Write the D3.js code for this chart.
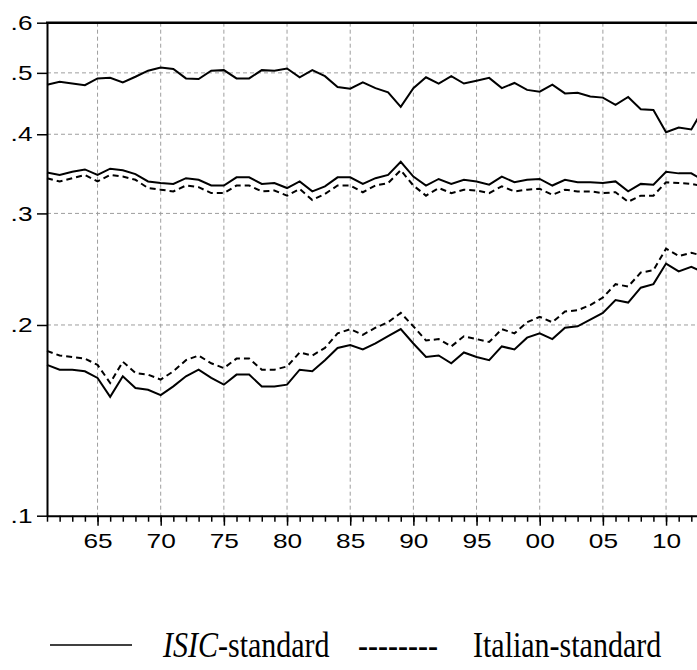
<!DOCTYPE html>
<html>
<head>
<meta charset="utf-8">
<script src="https://cdn.jsdelivr.net/npm/d3@7"></script>
<style>
  html, body { margin: 0; padding: 0; background: #fff; }
  svg { display: block; }
  .tick text { font-family: "Liberation Sans", Arial, sans-serif; font-size: 21px; fill: #000; }
</style>
</head>
<body>
<div id="chart"></div>
<script>
// Annual series, 1961-2013 (log scale)
const years = d3.range(1961, 2014);

const topShare = [
  .479, .484, .481, .478, .490, .491, .483, .493, .504, .510,
  .507, .490, .489, .504, .505, .490, .490, .505, .504, .508,
  .492, .505, .494, .475, .472, .483, .473, .466, .442, .473,
  .492, .481, .494, .481, .486, .491, .473, .482, .470, .467,
  .479, .464, .465, .459, .457, .445, .458, .438, .437, .403,
  .410, .407, .440
];

const midISIC = [
  .348, .345, .349, .352, .345, .353, .351, .346, .337, .335,
  .334, .341, .339, .332, .332, .342, .342, .334, .335, .329,
  .337, .325, .331, .342, .342, .334, .341, .345, .362, .343,
  .332, .340, .334, .339, .337, .333, .343, .336, .339, .340,
  .332, .339, .336, .336, .335, .337, .325, .334, .333, .349,
  .347, .347, .338
];

const midItalian = [
  .341, .337, .341, .345, .337, .345, .343, .339, .329, .327,
  .325, .332, .330, .323, .323, .332, .332, .325, .326, .320,
  .328, .315, .322, .332, .332, .324, .332, .335, .351, .332,
  .320, .329, .323, .327, .326, .323, .331, .325, .327, .328,
  .321, .327, .325, .325, .323, .324, .313, .320, .320, .336,
  .335, .334, .331
];

const lowISIC = [
  .173, .170, .170, .169, .165, .154, .166, .159, .158, .155,
  .160, .166, .170, .165, .161, .167, .167, .160, .160, .161,
  .170, .169, .176, .184, .186, .183, .187, .192, .197, .187,
  .178, .179, .174, .181, .178, .176, .185, .183, .191, .194,
  .190, .198, .199, .204, .209, .219, .217, .229, .232, .250,
  .243, .247, .242
];

const lowItalian = [
  .182, .179, .178, .177, .173, .162, .175, .168, .167, .164,
  .169, .176, .179, .174, .171, .177, .177, .170, .170, .172,
  .181, .179, .184, .194, .197, .193, .198, .202, .209, .199,
  .189, .190, .185, .192, .190, .188, .197, .194, .202, .206,
  .202, .210, .211, .215, .221, .232, .230, .242, .244, .264,
  .257, .260, .257
];

const yTicks = [0.1, 0.2, 0.3, 0.4, 0.5, 0.6];
const yTickLabels = [".1", ".2", ".3", ".4", ".5", ".6"];
const xMajor = [1965, 1970, 1975, 1980, 1985, 1990, 1995, 2000, 2005, 2010];
const xTickLabels = ["65", "70", "75", "80", "85", "90", "95", "00", "05", "10"];
const legendLabels = ["ISIC", "-standard", "Italian-standard"];

const W = 697, H = 670;
const plotLeft = 47, plotTop = 22.7, plotBottom = 515.7, plotRight = 697;
const labelStretch = 1.25;   // wide tick-label glyphs

const svg = d3.select("#chart").append("svg")
  .attr("width", W).attr("height", H)
  .style("background", "#fff");

const x = d3.scaleLinear().domain([1961, 2012.45]).range([plotLeft, plotRight]);
const y = d3.scaleLog().domain([0.1, 0.6]).range([plotBottom, plotTop]);

// dashed grid
const grid = svg.append("g").attr("stroke", "#9e9e9e").attr("stroke-width", 1)
  .attr("stroke-dasharray", "4,3").attr("fill", "none");
grid.selectAll("line.v").data(xMajor).join("line").attr("class", "v")
  .attr("x1", d => x(d)).attr("x2", d => x(d))
  .attr("y1", plotTop).attr("y2", plotBottom);
grid.selectAll("line.h").data(yTicks.slice(1, -1)).join("line").attr("class", "h")
  .attr("x1", plotLeft).attr("x2", plotRight)
  .attr("y1", d => y(d)).attr("y2", d => y(d));

// series
const line = d3.line().x((d, i) => x(years[i])).y(d => y(d));
const plot = svg.append("g").attr("fill", "none").attr("stroke", "#000")
  .attr("stroke-width", 2).attr("stroke-linejoin", "miter");
[topShare, midISIC, lowISIC].forEach(s => plot.append("path").attr("d", line(s)));
[midItalian, lowItalian].forEach(s => plot.append("path").attr("d", line(s))
  .attr("stroke-dasharray", "6,4"));

// y axis
const yAxis = svg.append("g").attr("transform", `translate(${plotLeft},0)`)
  .call(d3.axisLeft(y).tickValues(yTicks)
    .tickFormat((d, i) => yTickLabels[i]).tickSize(10).tickSizeOuter(0).tickPadding(4.5));
yAxis.selectAll(".tick line").attr("stroke", "#000").attr("stroke-width", 1.5);
yAxis.select(".domain").attr("stroke", "#000").attr("stroke-width", 2);
yAxis.selectAll(".tick text")
  .attr("x", -14.5 / labelStretch)
  .attr("transform", `scale(${labelStretch},1)`);

// x axis: minor ticks every year, labelled major ticks every five years
const minorYears = years.filter(v => x(v) <= plotRight);
const xMinor = svg.append("g").attr("transform", `translate(0,${plotBottom})`)
  .call(d3.axisBottom(x).tickValues(minorYears).tickFormat("").tickSize(6).tickSizeOuter(0));
xMinor.selectAll(".tick line").attr("stroke", "#000").attr("stroke-width", 1.5);
xMinor.select(".domain").remove();

const xAxis = svg.append("g").attr("transform", `translate(0,${plotBottom})`)
  .call(d3.axisBottom(x).tickValues(xMajor)
    .tickFormat((d, i) => xTickLabels[i]).tickSize(10).tickSizeOuter(0).tickPadding(7.5));
xAxis.selectAll(".tick line").attr("stroke", "#000").attr("stroke-width", 1.5);
xAxis.select(".domain").attr("stroke", "#000").attr("stroke-width", 2);
xAxis.selectAll(".tick text").attr("transform", `scale(${labelStretch},1)`);

// top frame line
svg.append("line").attr("x1", plotLeft - 1).attr("x2", plotRight)
  .attr("y1", plotTop).attr("y2", plotTop).attr("stroke", "#000").attr("stroke-width", 2.5);

// legend (serif, slightly tall glyphs)
const lg = svg.append("g").style("font-family", "'Liberation Serif', 'Times New Roman', serif")
  .style("font-size", "30px").attr("fill", "#000");
lg.append("line").attr("x1", 50).attr("x2", 132).attr("y1", 645).attr("y2", 645)
  .attr("stroke", "#000").attr("stroke-width", 1.5);
const t1 = lg.append("text").attr("transform", "translate(163,657) scale(1,1.2)");
t1.append("tspan").style("font-style", "italic").text(legendLabels[0]);
t1.append("tspan").text(legendLabels[1]);
lg.append("text").attr("transform", "translate(358,657) scale(1,1.2)").text("--------");
lg.append("text").attr("transform", "translate(473,657) scale(1,1.2)").text(legendLabels[2]);
</script>
</body>
</html>
